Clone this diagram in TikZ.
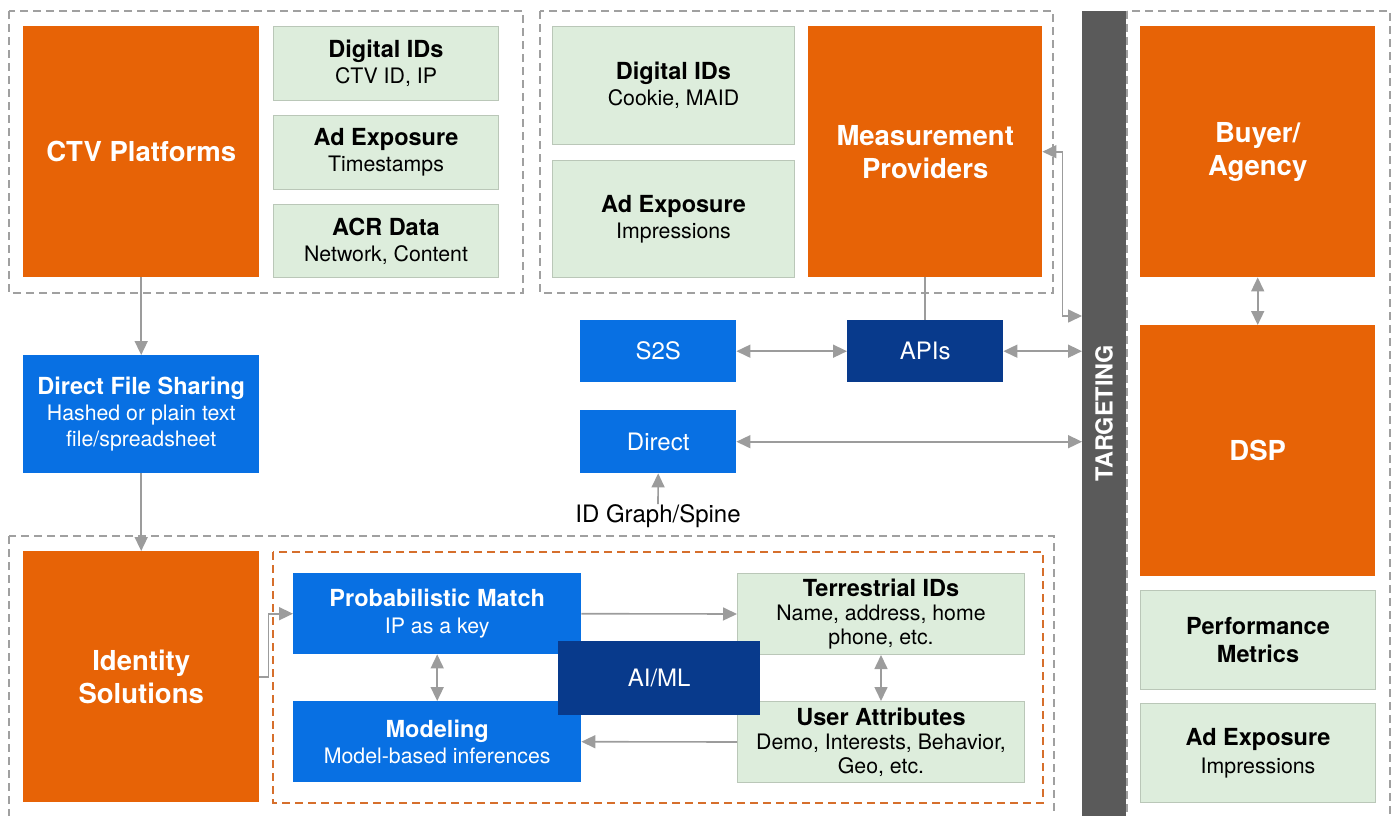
\documentclass[tikz,border=0pt]{standalone}
\usepackage{fontspec}
\setmainfont{TeX Gyre Heros}
\usetikzlibrary{arrows.meta}

\definecolor{ctvorange}{HTML}{E76306}
\definecolor{mintfill}{HTML}{DDEDDC}
\definecolor{mintline}{HTML}{BAC7B8}
\definecolor{idblue}{HTML}{0870E3}
\definecolor{navyblue}{HTML}{083A8C}
\definecolor{bargrey}{HTML}{5A5A5A}
\definecolor{linkgrey}{HTML}{9C9C9C}
\definecolor{dashgrey}{HTML}{A0A0A0}
\definecolor{dashorange}{HTML}{D66F2C}

% bold heading inside a box, slightly larger than the detail lines
\newcommand\boxhead[1]{{\fontsize{23.5}{26}\selectfont\bfseries #1}}

\tikzset{
  base/.style={anchor=north west, inner sep=0pt, align=center, draw=none},
  orangebox/.style={base, fill=ctvorange, text=white,
    font=\fontsize{27.5}{33}\selectfont\bfseries},
  greenbox/.style={base, fill=mintfill, draw=mintline, line width=1pt, text=black,
    font=\fontsize{21.3}{26}\selectfont},
  bluebox/.style={base, fill=idblue, text=white, font=\fontsize{21.3}{26}\selectfont},
  navybox/.style={base, fill=navyblue, text=white, font=\fontsize{21.3}{26}\selectfont},
  onelabel/.style={font=\fontsize{24}{26}\selectfont},
  groupbox/.style={draw=dashgrey, line width=2pt, dash pattern=on 8pt off 5pt},
  innergroup/.style={draw=dashorange, line width=2pt, dash pattern=on 8pt off 5pt},
  tip/.tip={Triangle[length=14pt,width=13pt]},
  link/.style={draw=linkgrey, line width=1.6pt, -tip, color=linkgrey},
  twoway/.style={draw=linkgrey, line width=1.6pt, tip-tip, color=linkgrey},
  plainlink/.style={draw=linkgrey, line width=1.6pt},
}

\begin{document}
\begin{tikzpicture}[x=1pt, y=-1pt]
\useasboundingbox (0,0) rectangle (1397,816);
\begin{scope}
\clip (0,0) rectangle (1397,816);

% group outlines
\draw[groupbox] (9,11) rectangle (523,293);
\draw[groupbox] (540,11) rectangle (1053,293);
\draw[groupbox] (1127,11) rectangle (1390,840);
\draw[groupbox] (9,536) rectangle (1054,840);
\draw[innergroup] (273,552) rectangle (1043,803);

% targeting bar
\node[base, fill=bargrey, minimum width=44pt, minimum height=805pt] (tgt) at (1082,11) {};
\node[text=white, font=\fontsize{23.5}{26}\selectfont\bfseries, rotate=90, inner sep=0pt] (tlabel) at (1104,413) {TARGETING};

% CTV platforms group
\node[orangebox, minimum width=236pt, minimum height=251pt] (ctv) at (23,26) {CTV Platforms};
\node[greenbox, minimum width=225pt, minimum height=74pt] (cids) at (273,26) {\boxhead{Digital IDs}\\CTV ID, IP};
\node[greenbox, minimum width=225pt, minimum height=74pt] (cexp) at (273,115) {\boxhead{Ad Exposure}\\Timestamps};
\node[greenbox, minimum width=225pt, minimum height=73pt] (acr) at (273,204) {\boxhead{ACR Data}\\Network, Content};

% measurement group
\node[greenbox, minimum width=242pt, minimum height=118pt] (mids) at (552,26) {\boxhead{Digital IDs}\\Cookie, MAID};
\node[greenbox, minimum width=242pt, minimum height=117pt] (mexp) at (552,160) {\boxhead{Ad Exposure}\\Impressions};
\node[orangebox, minimum width=234pt, minimum height=251pt] (meas) at (808,26) {Measurement\\Providers};

% buyer side
\node[orangebox, minimum width=235pt, minimum height=251pt] (buyer) at (1140,26) {Buyer/\\Agency};
\node[orangebox, minimum width=235pt, minimum height=251pt] (dsp) at (1140,325) {DSP};
\node[greenbox, minimum width=235pt, minimum height=99pt, font=\fontsize{23.5}{28}\selectfont\bfseries] (perf) at (1140,590) {Performance\\Metrics};
\node[greenbox, minimum width=235pt, minimum height=99pt, font=\fontsize{21.3}{28}\selectfont] (bexp) at (1140,703) {\boxhead{Ad Exposure}\\Impressions};

% sharing channels
\node[bluebox, minimum width=236pt, minimum height=118pt] (dfs) at (23,355) {\boxhead{Direct File Sharing}\\Hashed or plain text\\file/spreadsheet};
\node[bluebox, onelabel, minimum width=156pt, minimum height=62pt] (s2s) at (580,320) {S2S};
\node[navybox, onelabel, minimum width=156pt, minimum height=62pt] (api) at (847,320) {APIs};
\node[bluebox, onelabel, minimum width=156pt, minimum height=63pt] (direct) at (580,410) {Direct};
\node[inner sep=0pt, onelabel] (idg) at (658,516) {ID Graph/Spine};

% identity solutions group
\node[orangebox, minimum width=236pt, minimum height=251pt] (ids) at (23,551) {Identity\\Solutions};
\node[bluebox, minimum width=288pt, minimum height=81pt, font=\fontsize{21.3}{27}\selectfont] (pm) at (293,573) {\boxhead{Probabilistic Match}\\IP as a key};
\node[bluebox, minimum width=288pt, minimum height=81pt] (model) at (293,701) {\boxhead{Modeling}\\Model-based inferences};
\node[greenbox, minimum width=287pt, minimum height=81pt, font=\fontsize{21.3}{24}\selectfont] (ti) at (737,573) {\boxhead{Terrestrial IDs}\\Name, address, home\\phone, etc.};
\node[greenbox, minimum width=287pt, minimum height=81pt, font=\fontsize{21.3}{24}\selectfont] (ua) at (737,701) {\boxhead{User Attributes}\\Demo, Interests, Behavior,\\Geo, etc.};

% connectors
\draw[link] (ctv.south) -- (dfs.north);
\draw[link] (dfs.south) -- (ids.north);
\draw[twoway] (buyer.south) -- (dsp.north);
\draw[plainlink] (meas.south) -- (api.north);
\draw[twoway] (s2s.east) -- (api.west);
\draw[twoway] (api.east) -- (api.east -| tgt.west);
\draw[twoway] (direct.east) -- (direct.east -| tgt.west);
\coordinate (measin) at (tgt.west |- 0,316);
\draw[twoway] (meas.east) -- ++(20,0) |- (measin);
\draw[link] (idg.north) -- ++(0,-2) -- (direct.south);
\draw[link] (ids.east) -- ++(9,0) |- (pm.west);
\draw[link] (pm.east) -- (ti.west);
\draw[link] (ua.west) -- (model.east);
\draw[twoway] (pm.south) -- (model.north);
\draw[twoway] (ti.south) -- (ua.north);

\node[navybox, onelabel, minimum width=202pt, minimum height=74pt] (aiml) at (558,641) {AI/ML};
\end{scope}
\end{tikzpicture}
\end{document}
